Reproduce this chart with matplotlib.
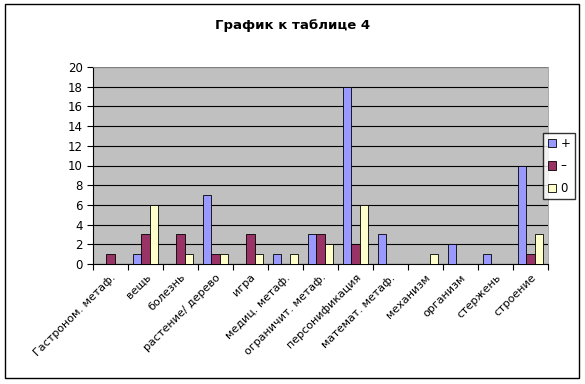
import numpy as np
import matplotlib.pyplot as plt
from matplotlib.patches import Rectangle
from matplotlib.transforms import ScaledTranslation

categories = ['Гастроном. метаф.', 'вещь', 'болезнь', 'растение/ дерево', 'игра',
              'медиц. метаф.', 'ограничит. метаф.', 'персонификация',
              'математ. метаф.', 'механизм', 'организм', 'стержень', 'строение']
plus = [0, 1, 0, 7, 0, 1, 3, 18, 3, 0, 2, 1, 10]
minus = [1, 3, 3, 1, 3, 0, 3, 2, 0, 0, 0, 0, 1]
zero = [0, 6, 1, 1, 1, 1, 2, 6, 0, 1, 0, 0, 3]
series_names = ['+', '–', '0']
colors = ['#9999FF', '#993366', '#FFFFCC']

fig = plt.figure(figsize=(5.85, 3.84), dpi=100)
fig.patches.append(Rectangle((0.008, 0.016), 0.982, 0.974, transform=fig.transFigure,
                             fill=False, edgecolor='black', linewidth=1))
ax = fig.add_axes([93/585, 1-264/384, (548-93)/585, (264-67)/384])
ax.set_facecolor('#C0C0C0')

x = np.arange(len(categories))
w = 0.23
for i, (vals, name, c) in enumerate(zip([plus, minus, zero], series_names, colors)):
    ax.bar(x + (i-1)*w, vals, width=w, color=c, edgecolor='black', linewidth=0.6,
           label=name, zorder=3)

ax.set_xlim(-0.5, len(categories)-0.5)
ax.set_ylim(0, 20)
ax.set_yticks(range(0, 21, 2))
ax.yaxis.grid(True, color='black', linewidth=0.8, zorder=1)
ax.set_axisbelow(True)
ax.set_xticks(np.arange(len(categories)+1) - 0.5, minor=False)
ax.set_xticklabels([])
ax.set_xticks(x, minor=True)
ax.set_xticklabels(categories, minor=True, rotation=45, ha='right', rotation_mode='anchor',
                   fontsize=8)
shift = ScaledTranslation(-6/72, 0, fig.dpi_scale_trans)
for lab in ax.get_xticklabels(minor=True):
    lab.set_transform(lab.get_transform() + shift)
ax.tick_params(axis='x', which='minor', length=0, pad=6)
ax.tick_params(axis='x', which='major', length=4, direction='out')
ax.tick_params(axis='y', labelsize=8.5, length=4, direction='out')
for s in ['top', 'right']:
    ax.spines[s].set_color('#999999')
    ax.spines[s].set_linewidth(0.6)

fig.text(0.5, 1-25/384, 'График к таблице 4', ha='center', va='center',
         fontsize=9.5, fontweight='bold')
fig.legend(loc='center', bbox_to_anchor=(559/585, 1-166/384), frameon=True,
           fancybox=False, edgecolor='black', fontsize=8.5, handlelength=0.7,
           handleheight=0.7, handletextpad=0.4, borderpad=0.35, labelspacing=0.8)

fig.savefig('out.png', dpi=100)
